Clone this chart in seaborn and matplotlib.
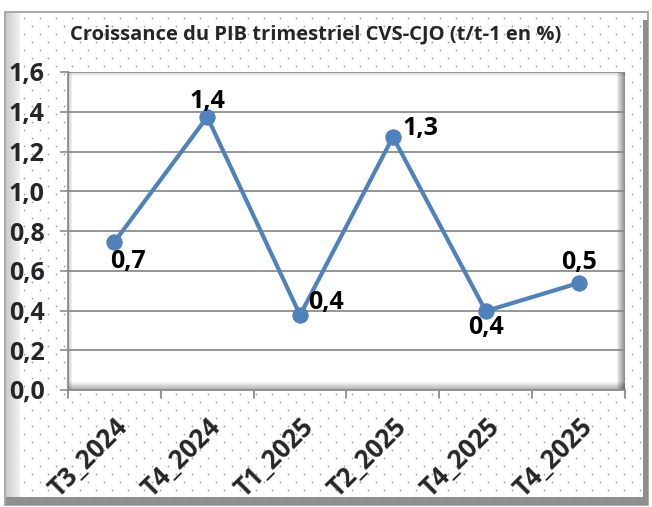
import matplotlib
matplotlib.use("Agg")
import matplotlib.pyplot as plt
from matplotlib.patches import Rectangle
import numpy as np
import pandas as pd
import seaborn as sns

# data
quarters = ["T3_2024", "T4_2024", "T1_2025", "T2_2025", "T4_2025", "T4_2025"]
growth = [0.745, 1.374, 0.377, 1.273, 0.397, 0.538]
labels = ["0,7", "1,4", "0,4", "1,3", "0,4", "0,5"]
label_offsets = [(10, -12), (0, 13), (19, 11), (20, 8), (0, -10), (0, 17)]
yticks = [0.0, 0.2, 0.4, 0.6, 0.8, 1.0, 1.2, 1.4, 1.6]

df = pd.DataFrame({"pos": np.arange(len(quarters)), "growth": growth})

sns.set_style("white")
plt.rcParams["font.family"] = ["Open Sans", "DejaVu Sans"]
plt.rcParams["font.weight"] = "bold"

W, H = 652, 507
fig = plt.figure(figsize=(W / 100, H / 100), dpi=100)
fig.patch.set_facecolor("white")


def px(x, y, w, h):
    # pixel box (top-left origin) -> figure fraction
    return (x / W, 1 - (y + h) / H, w / W, h / H)


def rect(x, y, w, h, **kw):
    l, b, ww, hh = px(x, y, w, h)
    fig.patches.append(Rectangle((l, b), ww, hh, transform=fig.transFigure, **kw))


# outer frame with bevel
rect(5, 12, 643, 493, facecolor="white", edgecolor="#9a9a9a", lw=1.2, zorder=0)
for i in range(14):
    g = 0.80 + 0.011 * i
    rect(6 + i, 13, 1, 490, facecolor=(g, g, g), edgecolor="none", zorder=0.1)
rect(6, 497, 642, 8, facecolor="#8e8e8e", edgecolor="none", zorder=0.2)
rect(643, 20, 5, 485, facecolor="#8e8e8e", edgecolor="none", zorder=0.2)

# dotted background pattern
xs, ys = [], []
for r, yy in enumerate(np.arange(18, 500, 8)):
    off = 0 if r % 2 == 0 else 8
    for xx in np.arange(24 + off, 642, 16):
        xs.append(xx / W)
        ys.append(1 - yy / H)
fig.add_artist(plt.Line2D(xs, ys, transform=fig.transFigure, ls="none",
                          marker="o", ms=1.3, mec="none", mfc="#7fa7de", zorder=0.3))

# plot area
ax = fig.add_axes(px(68, 72, 557, 318))
ax.set_facecolor("white")
ax.set_zorder(1)

# bevel shading inside the plot area
for i in range(8):
    a = 0.55 - 0.065 * i
    ax.add_patch(Rectangle((1 - (i + 1) * 1.0 / 557, 0), 1.0 / 557, 1, transform=ax.transAxes,
                           facecolor="black", alpha=a * 0.8, edgecolor="none", zorder=0))
for i in range(8):
    a = 0.45 - 0.055 * i
    ax.add_patch(Rectangle((0, i * 1.0 / 318), 1, 1.0 / 318, transform=ax.transAxes,
                           facecolor="black", alpha=a * 0.7, edgecolor="none", zorder=0))
for i in range(4):
    a = 0.35 - 0.08 * i
    ax.add_patch(Rectangle((i * 1.0 / 557, 0), 1.0 / 557, 1, transform=ax.transAxes,
                           facecolor="black", alpha=a * 0.6, edgecolor="none", zorder=0))
    ax.add_patch(Rectangle((0, 1 - (i + 1) * 1.0 / 318), 1, 1.0 / 318, transform=ax.transAxes,
                           facecolor="black", alpha=a * 0.4, edgecolor="none", zorder=0))

for v in yticks[1:]:
    ax.axhline(v, color="#8c8c8c", lw=1.3, zorder=1)

sns.lineplot(data=df, x="pos", y="growth", ax=ax, color="#4f81bd", lw=3,
             marker="o", markersize=11, markeredgecolor="#4f81bd", zorder=3)

for xi, yi, t, off in zip(df["pos"], growth, labels, label_offsets):
    ax.annotate(t, (xi, yi), xytext=off, textcoords="offset points", ha="center",
                va="center_baseline", fontsize=18, fontweight="bold", color="black", zorder=4)

ax.set_xlim(-0.5, len(quarters) - 0.5)
ax.set_ylim(0, 1.6)
ax.set_yticks(yticks)
ax.set_yticklabels([f"{v:.1f}".replace(".", ",") for v in yticks], fontsize=18, fontweight="bold")
ax.set_xticks(df["pos"])
ax.set_xticklabels(quarters, fontsize=18.5, fontweight="bold", rotation=45,
                   ha="right", rotation_mode="anchor")
ax.tick_params(axis="x", length=0, pad=17)
ax.tick_params(axis="y", length=6, width=1.2, color="#8c8c8c", pad=11, left=True)
for b in np.arange(-0.5, len(quarters), 1.0):
    ax.plot([b, b], [0, -0.04], color="#8c8c8c", lw=1.3, clip_on=False, zorder=2)
ax.set_xlabel("")
ax.set_ylabel("")
for s in ["top", "right"]:
    ax.spines[s].set_visible(False)
ax.spines["left"].set_color("#8c8c8c")
ax.spines["bottom"].set_color("#8c8c8c")
ax.spines["left"].set_linewidth(1.3)
ax.spines["bottom"].set_linewidth(1.3)

fig.text(316 / W, 1 - 34 / H, "Croissance du PIB trimestriel CVS-CJO (t/t-1 en %)",
         ha="center", va="center", fontsize=14.5, fontweight="bold")

fig.savefig("out.png", dpi=100)
